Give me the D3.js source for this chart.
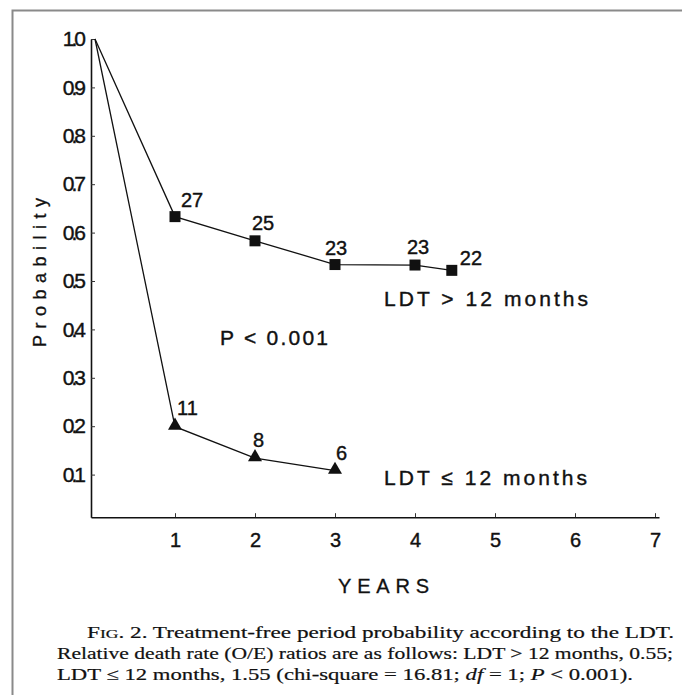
<!DOCTYPE html>
<html>
<head>
<meta charset="utf-8">
<script src="https://cdn.jsdelivr.net/npm/d3@7/dist/d3.min.js"></script>
<style>
  html, body { margin: 0; padding: 0; background: #fff; }
  svg { display: block; }
</style>
</head>
<body>
<script>
// Treatment-free period probability by lymphocyte doubling time (LDT)
const years = [0, 1, 2, 3, 4, 4.46];
const probLong = [1.0, 0.633, 0.583, 0.534, 0.533, 0.522];   // LDT > 12 months
const nLong = ["", "27", "25", "23", "23", "22"];

const yearsShort = [0, 1, 2, 3];
const probShort = [1.0, 0.199, 0.134, 0.108];                 // LDT ≤ 12 months
const nShort = ["", "11", "8", "6"];

const xTicks = [1, 2, 3, 4, 5, 6, 7];
const yTicks = [0.1, 0.2, 0.3, 0.4, 0.5, 0.6, 0.7, 0.8, 0.9, 1.0];

const captionLines = [
  "Relative death rate (O/E) ratios are as follows: LDT > 12 months, 0.55;",
  "LDT \u2264 12 months, 1.55 (chi-square = 16.81; "
];

const W = 682, H = 695;
const sans = "'Liberation Sans', Arial, sans-serif";
const serif = "'Liberation Serif', 'Times New Roman', serif";
const ink = "#111";

const svg = d3.select("body").append("svg").attr("width", W).attr("height", H);

// page frame (top and left rules)
svg.append("path")
  .attr("d", "M12.5,695 V10.5 H682")
  .attr("fill", "none").attr("stroke", "#8a8a8a").attr("stroke-width", 2);

const x = d3.scaleLinear().domain([0, 7]).range([95, 655]);
const y = d3.scaleLinear().domain([0, 1]).range([523, 39]);

// axis scales cover a slightly wider span so the axes meet at the corner
const xAxisScale = x.copy().domain([-0.05, 7.05]).range([x(-0.05), x(7.05)]);
const yAxisScale = y.copy().domain([0.012, 1]).range([y(0.012), y(1)]);
const x0 = xAxisScale(-0.05), y0 = yAxisScale(0.012);

const gx = svg.append("g").attr("transform", `translate(0,${y0})`)
  .call(d3.axisBottom(xAxisScale).tickValues(xTicks).tickFormat(d3.format("d"))
    .tickSizeInner(-4).tickSizeOuter(0).tickPadding(20));
gx.select(".domain").attr("stroke", ink).attr("stroke-width", 1.6);
gx.selectAll(".tick line").attr("stroke", "#333").attr("stroke-width", 1);
gx.selectAll(".tick text").attr("font-family", sans).attr("font-size", 20)
  .attr("fill", ink).attr("stroke", ink).attr("stroke-width", 0.4).attr("dy", "0.5em");

const gy = svg.append("g").attr("transform", `translate(${x0},0)`)
  .call(d3.axisLeft(yAxisScale).tickValues(yTicks).tickFormat(d3.format(".1f"))
    .tickSizeInner(-4).tickSizeOuter(0).tickPadding(8));
gy.select(".domain").attr("stroke", ink).attr("stroke-width", 1.6);
gy.selectAll(".tick line").attr("stroke", "#333").attr("stroke-width", 1);
gy.selectAll(".tick text").attr("font-family", sans).attr("font-size", 21)
  .attr("fill", ink).attr("stroke", ink).attr("stroke-width", 0.4)
  .attr("letter-spacing", -3);

// axis titles
svg.append("text").attr("x", 338).attr("y", 593)
  .attr("font-family", sans).attr("font-size", 20).attr("textLength", 91)
  .attr("lengthAdjust", "spacing").attr("fill", ink)
  .attr("stroke", ink).attr("stroke-width", 0.3).text("YEARS");
svg.append("text").attr("transform", "translate(46,347) rotate(-90)")
  .attr("font-family", sans).attr("font-size", 18).attr("textLength", 149)
  .attr("lengthAdjust", "spacing").attr("fill", ink)
  .attr("stroke", ink).attr("stroke-width", 0.3).text("Probability");

const line = d3.line().x(d => x(d[0])).y(d => y(d[1]));

const longPts = years.map((t, i) => [t, probLong[i], nLong[i]]);
const shortPts = yearsShort.map((t, i) => [t, probShort[i], nShort[i]]);

[longPts, shortPts].forEach(pts => {
  svg.append("path").datum(pts).attr("d", line)
    .attr("fill", "none").attr("stroke", ink).attr("stroke-width", 1.3);
});

// markers: squares for LDT > 12, triangles for LDT ≤ 12
const sq = 11;
svg.selectAll("rect.m").data(longPts.slice(1)).enter().append("rect")
  .attr("x", d => x(d[0]) - sq / 2).attr("y", d => y(d[1]) - sq / 2)
  .attr("width", sq).attr("height", sq).attr("fill", ink);
const tri = d3.symbol().type(d3.symbolTriangle).size(85);
svg.selectAll("path.t").data(shortPts.slice(1)).enter().append("path")
  .attr("d", tri).attr("transform", d => `translate(${x(d[0])},${y(d[1]) - 1})`)
  .attr("fill", ink);

// numbers at risk beside each marker
const longOffsets = [null, [6, -10], [-3, -11], [-10, -10], [-8, -11], [8, -5]];
const shortOffsets = [null, [2, -12], [-2, -11], [1, -11]];
function riskLabels(pts, offs) {
  pts.forEach((d, i) => {
    if (!d[2]) return;
    svg.append("text").attr("x", x(d[0]) + offs[i][0]).attr("y", y(d[1]) + offs[i][1])
      .attr("font-family", sans).attr("font-size", 20).attr("fill", ink)
      .attr("stroke", ink).attr("stroke-width", 0.4).text(d[2]);
  });
}
riskLabels(longPts, longOffsets);
riskLabels(shortPts, shortOffsets);

// series annotations and test result
const ann = [
  { t: "LDT > 12 months", x: 384, y: 306, w: 204 },
  { t: "P < 0.001", x: 220, y: 345, w: 108 },
  { t: "LDT \u2264 12 months", x: 384, y: 485, w: 203 }
];
ann.forEach(a => {
  svg.append("text").attr("x", a.x).attr("y", a.y).attr("font-family", sans)
    .attr("font-size", 21).attr("fill", ink).attr("stroke", ink).attr("stroke-width", 0.4)
    .attr("textLength", a.w).attr("lengthAdjust", "spacing").text(a.t);
});

// figure caption
const cap = svg.append("g").attr("font-family", serif).attr("font-size", 16.5)
  .attr("fill", ink).attr("stroke", ink).attr("stroke-width", 0.2);
const l1 = cap.append("text").attr("x", 87).attr("y", 638)
  .attr("textLength", 587).attr("lengthAdjust", "spacingAndGlyphs");
l1.append("tspan").text("F");
l1.append("tspan").attr("font-size", 12.5).text("IG");
l1.append("tspan").text(". 2. Treatment-free period probability according to the LDT.");
cap.append("text").attr("x", 57).attr("y", 659)
  .attr("textLength", 616).attr("lengthAdjust", "spacingAndGlyphs").text(captionLines[0]);
const l3 = cap.append("text").attr("x", 57).attr("y", 680)
  .attr("textLength", 576).attr("lengthAdjust", "spacingAndGlyphs");
l3.append("tspan").text(captionLines[1]);
l3.append("tspan").attr("font-style", "italic").text("df");
l3.append("tspan").text(" = 1; ");
l3.append("tspan").attr("font-style", "italic").text("P");
l3.append("tspan").text(" < 0.001).");
</script>
</body>
</html>
